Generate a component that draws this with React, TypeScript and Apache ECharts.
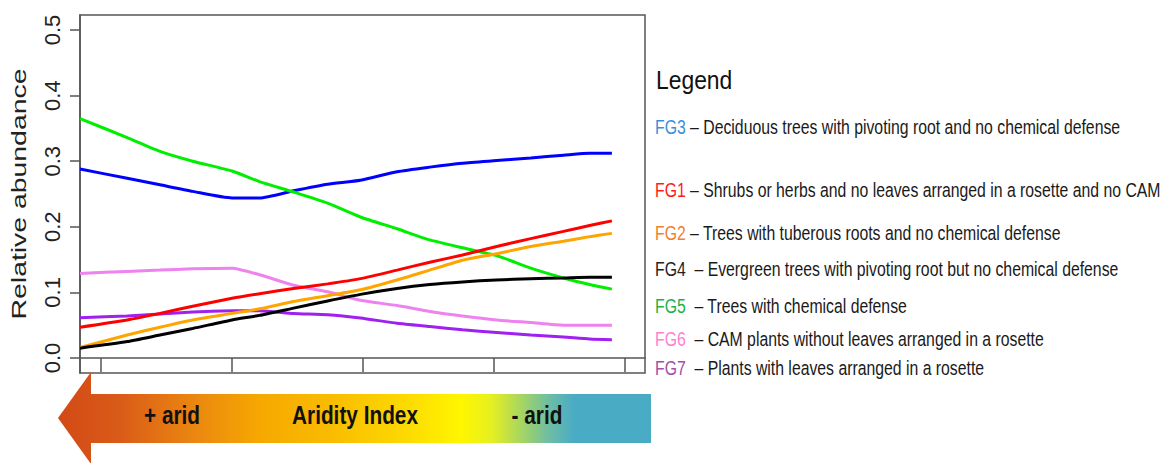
import React, { useEffect, useRef } from "react";
import * as echarts from "echarts";

// Aridity gradient position (in x-axis tick units; ticks at 1..5)
const aridityX = [0.84, 1.2, 1.45, 1.7, 2.0, 2.21, 2.47, 2.73, 2.98, 3.26, 3.51, 3.76, 4.02, 4.28, 4.53, 4.73, 4.9];

const fg1 = [0.047, 0.058, 0.068, 0.079, 0.091, 0.098, 0.106, 0.113, 0.121, 0.134, 0.146, 0.157, 0.17, 0.182, 0.193, 0.202, 0.209];
const fg2 = [0.016, 0.035, 0.047, 0.058, 0.068, 0.075, 0.086, 0.095, 0.104, 0.119, 0.134, 0.149, 0.159, 0.17, 0.178, 0.185, 0.19];
const fg3 = [0.288, 0.274, 0.264, 0.254, 0.244, 0.244, 0.255, 0.265, 0.271, 0.284, 0.291, 0.297, 0.301, 0.305, 0.309, 0.312, 0.312];
const fg4 = [0.015, 0.025, 0.035, 0.045, 0.058, 0.065, 0.076, 0.087, 0.097, 0.106, 0.112, 0.116, 0.119, 0.121, 0.122, 0.123, 0.123];
const fg5 = [0.365, 0.336, 0.315, 0.3, 0.285, 0.269, 0.253, 0.236, 0.215, 0.197, 0.18, 0.168, 0.156, 0.137, 0.122, 0.112, 0.105];
const fg6 = [0.129, 0.132, 0.134, 0.136, 0.137, 0.127, 0.111, 0.101, 0.088, 0.08, 0.071, 0.064, 0.058, 0.054, 0.05, 0.05, 0.05];
const fg7 = [0.0615, 0.064, 0.067, 0.07, 0.072, 0.072, 0.068, 0.066, 0.061, 0.053, 0.048, 0.043, 0.039, 0.035, 0.032, 0.029, 0.028];

const yTickValues = [0, 0.1, 0.2, 0.3, 0.4, 0.5];
const xTickValues = [1, 2, 3, 4, 5];

const yAxisTitle = "Relative abundance";
const legendTitle = "Legend";
const legendCodes = ["FG3", "FG1", "FG2", "FG4 ", "FG5 ", "FG6 ", "FG7 "];
const legendDescriptions = [
  "– Deciduous trees with pivoting root and no chemical defense",
  "– Shrubs or herbs and no leaves arranged in a rosette and no CAM",
  "– Trees with tuberous roots and no chemical defense",
  "– Evergreen trees with pivoting root but no chemical defense",
  "– Trees with chemical defense",
  "– CAM plants without leaves arranged in a rosette",
  "– Plants with leaves arranged in a rosette",
];
const barLabels = ["+ arid", "Aridity Index", "- arid"];

// styles / layout
const seriesDefs = [
  { name: "FG3", data: fg3, color: "#0000FF" },
  { name: "FG5", data: fg5, color: "#00EE00" },
  { name: "FG6", data: fg6, color: "#EE82EE" },
  { name: "FG7", data: fg7, color: "#A020F0" },
  { name: "FG1", data: fg1, color: "#FF0000" },
  { name: "FG2", data: fg2, color: "#FFA500" },
  { name: "FG4", data: fg4, color: "#000000" },
];
const legendCodeColors = ["#3A8EDB", "#FF1A1A", "#F08030", "#222222", "#22B04A", "#FF80D0", "#A050A8"];
const legendRowY = [127, 190, 233, 269, 306, 339, 368];
const barLabelX = [172, 355, 537];

const SANS = "'Liberation Sans', Arial, sans-serif";

export default function App() {
  const ref = useRef<HTMLDivElement>(null);

  useEffect(() => {
    document.body.style.margin = "0";
    const chart = echarts.init(ref.current!, null, { renderer: "svg" });

    const gradient = new echarts.graphic.LinearGradient(0, 0, 1, 0, [
      { offset: 0, color: "#D24A16" },
      { offset: 0.1, color: "#D95A18" },
      { offset: 0.24, color: "#EC8A10" },
      { offset: 0.34, color: "#F6A800" },
      { offset: 0.46, color: "#F9BC00" },
      { offset: 0.58, color: "#FCD800" },
      { offset: 0.68, color: "#FFF600" },
      { offset: 0.73, color: "#E6F020" },
      { offset: 0.78, color: "#A8D660" },
      { offset: 0.83, color: "#6CBCA6" },
      { offset: 0.87, color: "#4AABC4" },
      { offset: 1, color: "#4AABC4" },
    ]);

    const graphics: any[] = [
      {
        type: "polygon",
        shape: {
          points: [
            [58, 418],
            [91, 372],
            [91, 394],
            [651, 394],
            [651, 443],
            [91, 443],
            [91, 464],
          ],
        },
        style: { fill: gradient },
        z: 1,
      },
      ...barLabels.map((t, i) => ({
        type: "text",
        x: barLabelX[i],
        y: 415,
        scaleX: 0.8,
        z: 2,
        style: {
          text: t,
          fill: "#111",
          font: `bold 26px ${SANS}`,
          textAlign: "center",
          textVerticalAlign: "middle",
        },
      })),
      {
        type: "text",
        x: 19,
        y: 194,
        rotation: Math.PI / 2,
        scaleX: 1.42,
        style: {
          text: yAxisTitle,
          fill: "#222",
          font: `20px ${SANS}`,
          textAlign: "center",
          textVerticalAlign: "middle",
        },
      },
      {
        type: "text",
        x: 656,
        y: 80,
        scaleX: 0.88,
        style: {
          text: legendTitle,
          fill: "#111",
          font: `26px ${SANS}`,
          textAlign: "left",
          textVerticalAlign: "middle",
        },
      },
      ...legendCodes.map((c, i) => ({
        type: "text",
        x: 655,
        y: legendRowY[i],
        scaleX: 0.81,
        style: {
          text: `{c|${c}} {t|${legendDescriptions[i]}}`,
          textAlign: "left",
          textVerticalAlign: "middle",
          font: `19.5px ${SANS}`,
          rich: {
            c: { fill: legendCodeColors[i], font: `19.5px ${SANS}` },
            t: { fill: "#1A1A1A", font: `19.5px ${SANS}` },
          },
        },
      })),
    ];

    const option: any = {
      animation: false,
      backgroundColor: "#ffffff",
      grid: {
        left: 80,
        right: 525,
        top: 15,
        bottom: 90,
        show: true,
        borderColor: "#555",
        borderWidth: 1.5,
        backgroundColor: "transparent",
      },
      xAxis: {
        type: "value",
        min: 0.8397,
        max: 5.1527,
        axisLine: { show: true, lineStyle: { color: "#555", width: 1.5 } },
        axisTick: {
          show: true,
          customValues: xTickValues,
          length: 14,
          inside: false,
          lineStyle: { color: "#555", width: 1.5 },
        },
        axisLabel: { show: false },
        splitLine: { show: false },
      },
      yAxis: {
        type: "value",
        min: -0.02287,
        max: 0.5229,
        axisLine: { show: true, lineStyle: { color: "#555", width: 1.5 } },
        axisTick: {
          show: true,
          customValues: yTickValues,
          length: 10,
          lineStyle: { color: "#555", width: 1.5 },
        },
        axisLabel: {
          show: true,
          customValues: yTickValues,
          rotate: 90,
          margin: 17,
          fontSize: 22,
          fontFamily: SANS,
          color: "#222",
          formatter: (v: number) => v.toFixed(1),
        },
        splitLine: { show: false },
      },
      series: seriesDefs.map((s) => ({
        name: s.name,
        type: "line",
        data: aridityX.map((x, i) => [x, s.data[i]]),
        showSymbol: false,
        symbol: "none",
        smooth: 0.2,
        lineStyle: { color: s.color, width: 3 },
        itemStyle: { color: s.color },
      })),
      graphic: graphics,
    };

    chart.setOption(option);
    return () => chart.dispose();
  }, []);

  return <div ref={ref} style={{ width: 1170, height: 463 }} />;
}
